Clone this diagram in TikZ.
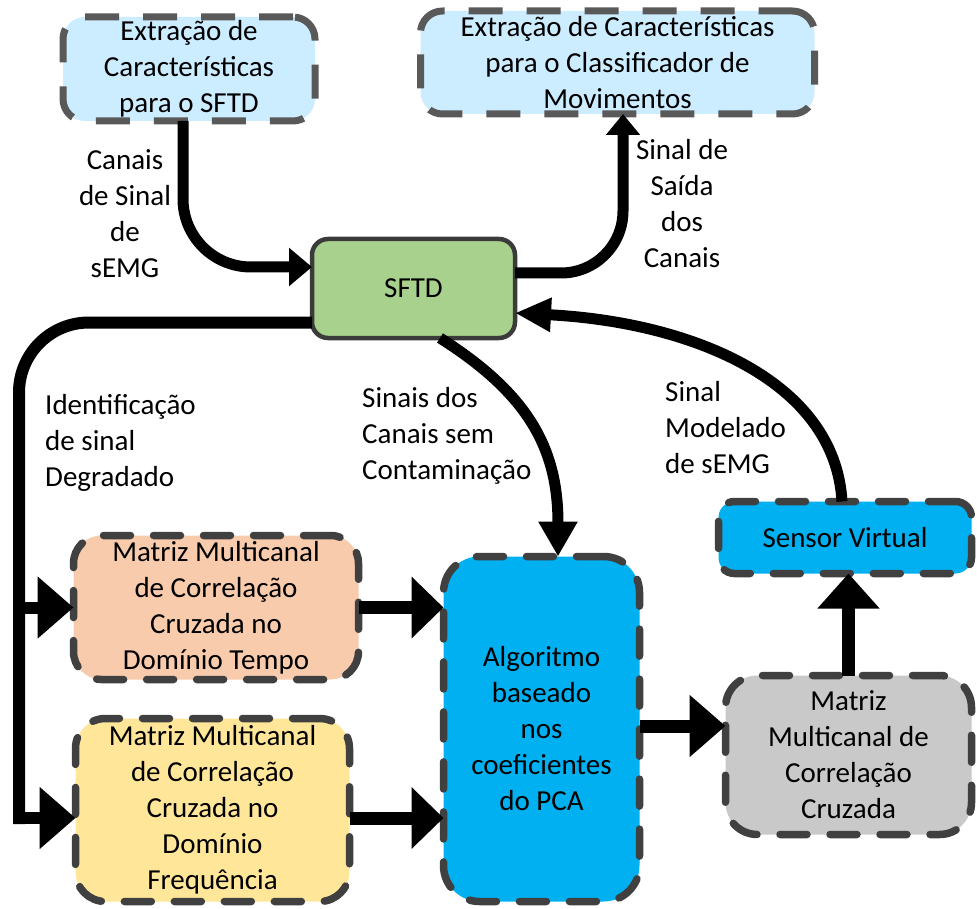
\documentclass[tikz,border=0pt]{standalone}
\usepackage{fontspec}
\setmainfont{Carlito}
\usetikzlibrary{arrows.meta}
\definecolor{skyfill}{HTML}{CCECFF}
\definecolor{dashlight}{HTML}{595959}
\definecolor{dashgray}{HTML}{404040}
\definecolor{sftdgreen}{HTML}{A9D18E}
\definecolor{sftdborder}{HTML}{3B3B3B}
\definecolor{peach}{HTML}{F8CBAD}
\definecolor{cream}{HTML}{FFE699}
\definecolor{cyanfill}{HTML}{00B0F0}
\definecolor{grayfill}{HTML}{C9C9C9}
\begin{document}
\begin{tikzpicture}[x=1pt,y=-1pt,
  txt/.style={font=\fontsize{29}{36}\selectfont, align=center, inner sep=0pt},
  lbl/.style={txt, align=left, anchor=west},
  box/.style={txt, rectangle, outer sep=0pt},
  lightbox/.style={box, fill=skyfill, draw=dashlight, line width=7pt,
    dash pattern=on 34pt off 24pt, rounded corners=22pt},
  softbox/.style={box, draw=dashgray, line width=7.5pt, line cap=round,
    dash pattern=on 27pt off 23pt},
  sftdbox/.style={box, fill=sftdgreen, draw=sftdborder, line width=4.5pt, rounded corners=16pt},
  curve/.style={draw=black, line width=11pt},
  flow/.style={draw=black, line width=13pt},
  bigtip/.style={-{Triangle[length=36pt,width=60pt]}}
]
\useasboundingbox (0,0) rectangle (977,909);

% blocks
\node[lightbox, minimum width=252pt, minimum height=104pt] (feat) at (189,69)
  {Extração de\\Características\\para o SFTD};
\node[lightbox, minimum width=394pt, minimum height=103pt] (featcls) at (617.5,62.5)
  {Extração de Características\\para o Classificador de\\Movimentos};
\node[sftdbox, minimum width=203pt, minimum height=99pt] (sftd) at (413.5,288.5) {SFTD};
\node[softbox, fill=peach, minimum width=285pt, minimum height=144pt, rounded corners=28pt]
  (tempo) at (216,607.5) {Matriz Multicanal\\de Correlação\\Cruzada no\\Domínio Tempo};
\node[softbox, fill=cream, minimum width=274pt, minimum height=183pt, rounded corners=30pt]
  (freq) at (212.5,810) {Matriz Multicanal\\de Correlação\\Cruzada no\\Domínio\\Frequência};
\node[softbox, fill=cyanfill, minimum width=196pt, minimum height=345pt, rounded corners=36pt]
  (pca) at (541.5,729) {Algoritmo\\baseado\\nos\\coeficientes\\do PCA};
\node[softbox, fill=cyanfill, minimum width=253pt, minimum height=72pt, rounded corners=16pt]
  (virt) at (845,537.5) {Sensor Virtual};
\node[softbox, fill=grayfill, minimum width=246pt, minimum height=159pt, rounded corners=32pt]
  (cross) at (848.5,755) {Matriz\\Multicanal de\\Correlação\\Cruzada};

% helper points
\coordinate (rail) at (19,824);
\coordinate (freqin) at ([yshift=-8pt]freq.west);
\coordinate (freqout) at ([yshift=-8pt]freq.east);
\coordinate (crossin) at ([yshift=29pt]cross.west);

% connectors
\draw[curve, rounded corners=68pt, -{Triangle[length=23pt,width=37pt]}]
  ([xshift=-6pt]feat.south) |- ([yshift=21.5pt]sftd.west);
\draw[curve, rounded corners=62pt, -{Triangle[length=21pt,width=33pt]}]
  ([yshift=15.5pt]sftd.east) -| ([xshift=5.5pt]featcls.south);
\draw[draw=black, line width=12pt, rounded corners=70pt]
  ([yshift=-34pt]sftd.west) -| (rail);
\draw[draw=black, line width=12pt, bigtip] (rail |- tempo.west) -- (tempo.west);
\draw[draw=black, line width=12pt, bigtip] (rail |- freqin) -- (freqin);
\draw[flow, -{Triangle[length=32pt,width=60pt]}] (tempo.east) -- (tempo.east -| pca.west);
\draw[flow, -{Triangle[length=32pt,width=60pt]}] (freqout) -- (freqout -| pca.west);
\draw[flow, bigtip] (crossin -| pca.east) -- (crossin);
\draw[flow, -{Triangle[length=35pt,width=60pt]}] (cross.north) -- (cross.north |- virt.south);
\draw[curve, -{Triangle[length=36pt,width=32pt]}]
  ([xshift=-3pt]virt.north) .. controls (835,380) and (690,322) .. ([yshift=-24.5pt]sftd.east);
\draw[curve, -{Triangle[length=35pt,width=37pt]}]
  ([xshift=26.5pt]sftd.south) .. controls (530,395) and (558,450) .. ([xshift=16.5pt]pca.north);

% connector labels
\node[txt] (lblin) at (125,214) {Canais\\de Sinal\\de\\sEMG};
\node[txt] (lblout) at (682,204) {Sinal de\\Saída\\dos\\Canais};
\node[lbl] (lbldeg) at (45,443) {Identificação\\de sinal\\Degradado};
\node[lbl] (lblclean) at (362,436) {Sinais dos\\Canais sem\\Contaminação};
\node[lbl] (lblmod) at (665,428) {Sinal\\Modelado\\de sEMG};
\end{tikzpicture}
\end{document}
